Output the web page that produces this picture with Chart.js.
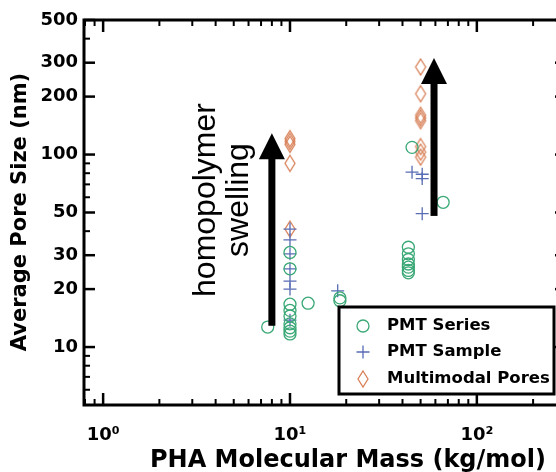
<!DOCTYPE html>
<html>
<head>
<meta charset="utf-8">
<script src="https://cdn.jsdelivr.net/npm/chart.js@4.4.1/dist/chart.umd.min.js"></script>
<style>
  html, body { margin: 0; padding: 0; background: #fff; overflow: hidden; }
  #wrap { width: 580px; height: 472px; }
</style>
</head>
<body>
<div id="wrap"><canvas id="c" width="580" height="472"></canvas></div>
<script>
// PMT Series: PHA molecular mass (kg/mol) and average pore size (nm)
const seriesMass = [7.6, 10, 10, 10, 10, 10, 10, 10, 10, 10, 12.5, 18.5, 18.5, 43, 43, 43, 43, 43, 43, 43, 45, 66];
const seriesPore = [12.7, 31, 25.5, 16.7, 15.5, 14.5, 13.2, 12.6, 12.1, 11.7, 16.9, 18, 17.4, 33, 30.5, 28.5, 27, 26, 25, 24.3, 109, 56.5];

// PMT Sample
const sampleMass = [10, 10, 10, 10, 10, 10, 10, 18, 45, 51, 51, 51];
const samplePore = [41, 36, 30.5, 25.5, 22, 20, 13.8, 19.6, 81, 79, 75, 49.3];

// Multimodal pores
const multiMass = [10, 10, 10, 10, 10, 50, 50, 50, 50, 50, 50, 50, 50];
const multiPore = [121, 117, 113, 90, 41, 285, 207, 160, 155, 150, 110, 103, 97];

// Axis ticks
const xMajor = [1, 10, 100];
const xLabels = ['10\u2070', '10\u00b9', '10\u00b2'];
const xMinor = [0.8, 0.9, 2, 3, 4, 5, 6, 7, 8, 9, 20, 30, 40, 50, 60, 70, 80, 90, 200];
const yMajor = [10, 20, 30, 50, 100, 200, 300, 500];
const yLabels = ['10', '20', '30', '50', '100', '200', '300', '500'];
const yMinor = [6, 7, 8, 9, 40, 60, 70, 80, 90, 400];

// "homopolymer swelling" arrows (mass, from pore size, to pore size)
const arrowMass = [8, 59];
const arrowFrom = [12.9, 48];
const arrowTo = [129, 317];

const legendNames = ['PMT Series', 'PMT Sample', 'Multimodal Pores'];

const GREEN = 'rgb(58,168,118)';
const BLUE = 'rgb(88,108,180)';
const ORANGE = 'rgb(216,128,88)';

// tall open diamond marker
function diamondMarker(color) {
  const cv = document.createElement('canvas');
  cv.width = 14; cv.height = 20;
  const g = cv.getContext('2d');
  g.strokeStyle = color;
  g.lineWidth = 1.3;
  g.beginPath();
  g.moveTo(7, 2); g.lineTo(12, 10); g.lineTo(7, 18); g.lineTo(2, 10);
  g.closePath();
  g.stroke();
  return cv;
}
const diamond = diamondMarker(ORANGE);

const pairs = (xs, ys) => xs.map((v, i) => ({ x: v, y: ys[i] }));

const axisFrame = {
  id: 'axisFrame',
  beforeDatasetsDraw(chart) {
    const { ctx, chartArea: a, scales: { x, y } } = chart;
    ctx.save();
    ctx.strokeStyle = '#000';
    const seg = (x0, y0, x1, y1) => { ctx.beginPath(); ctx.moveTo(x0, y0); ctx.lineTo(x1, y1); ctx.stroke(); };
    ctx.lineWidth = 2.5;
    xMajor.forEach(v => { const p = x.getPixelForValue(v); seg(p, a.bottom, p, a.bottom - 12); seg(p, a.top, p, a.top + 12); });
    yMajor.forEach(v => { const p = y.getPixelForValue(v); seg(a.left, p, a.left + 11, p); seg(a.right, p, a.right - 11, p); });
    ctx.lineWidth = 2;
    xMinor.forEach(v => { const p = x.getPixelForValue(v); seg(p, a.bottom, p, a.bottom - 6); seg(p, a.top, p, a.top + 6); });
    yMinor.forEach(v => { const p = y.getPixelForValue(v); seg(a.left, p, a.left + 6, p); seg(a.right, p, a.right - 6, p); });
    ctx.lineWidth = 3;
    ctx.strokeRect(a.left, a.top, a.right - a.left, a.bottom - a.top);
    ctx.restore();
  }
};

const notes = {
  id: 'notes',
  afterDatasetsDraw(chart) {
    const { ctx, scales: { x, y } } = chart;
    ctx.save();
    ctx.fillStyle = '#000';
    arrowMass.forEach((m, i) => {
      const px = x.getPixelForValue(m);
      const yb = y.getPixelForValue(arrowFrom[i]);
      const yt = y.getPixelForValue(arrowTo[i]);
      const head = 26, half = 13;
      ctx.fillRect(px - 3.5, yt + head - 1, 7, yb - (yt + head - 1));
      ctx.beginPath();
      ctx.moveTo(px, yt);
      ctx.lineTo(px + half, yt + head);
      ctx.lineTo(px - half, yt + head);
      ctx.closePath();
      ctx.fill();
    });

    // rotated annotation
    ctx.font = '32px "Liberation Sans", Arial, sans-serif';
    ctx.textAlign = 'center';
    ctx.textBaseline = 'alphabetic';
    [['homopolymer', 215], ['swelling', 248]].forEach(([t, bx]) => {
      ctx.save();
      ctx.translate(bx, 200);
      ctx.rotate(-Math.PI / 2);
      ctx.fillText(t, 0, 0);
      ctx.restore();
    });

    // axis titles
    ctx.font = 'bold 24px "DejaVu Sans", sans-serif';
    ctx.textBaseline = 'middle';
    ctx.fillText('PHA Molecular Mass (kg/mol)', 348, 461);
    ctx.save();
    ctx.font = 'bold 21px "DejaVu Sans", sans-serif';
    ctx.translate(21, 212);
    ctx.rotate(-Math.PI / 2);
    ctx.fillText('Average Pore Size (nm)', 0, 0);
    ctx.restore();

    // legend
    const L = 339, T = 307, R = 554, B = 394;
    ctx.fillStyle = '#fff';
    ctx.fillRect(L, T, R - L, B - T);
    ctx.strokeStyle = '#000';
    ctx.lineWidth = 3;
    ctx.strokeRect(L, T, R - L, B - T);
    const rows = [326, 352, 379];
    chart.data.datasets.forEach((ds, i) => {
      ctx.save();
      ctx.strokeStyle = ds.borderColor;
      ctx.fillStyle = 'rgba(0,0,0,0)';
      ctx.lineWidth = ds.borderWidth;
      Chart.helpers.drawPoint(ctx, { pointStyle: ds.pointStyle, radius: ds.pointRadius, rotation: 0, borderWidth: ds.borderWidth }, 363, rows[i]);
      ctx.restore();
      ctx.fillStyle = '#000';
      ctx.font = 'bold 16.5px "DejaVu Sans", sans-serif';
      ctx.textAlign = 'left';
      ctx.textBaseline = 'middle';
      ctx.fillText(legendNames[i], 387, rows[i]);
    });
    ctx.restore();
  }
};

new Chart(document.getElementById('c'), {
  type: 'scatter',
  data: {
    datasets: [
      { label: legendNames[0], data: pairs(seriesMass, seriesPore), pointStyle: 'circle', pointRadius: 6, borderWidth: 1.3, borderColor: GREEN, backgroundColor: 'rgba(0,0,0,0)' },
      { label: legendNames[1], data: pairs(sampleMass, samplePore), pointStyle: 'cross', pointRadius: 6.5, borderWidth: 1.3, borderColor: BLUE, backgroundColor: 'rgba(0,0,0,0)' },
      { label: legendNames[2], data: pairs(multiMass, multiPore), pointStyle: diamond, pointRadius: 7, borderWidth: 1.3, borderColor: ORANGE, backgroundColor: 'rgba(0,0,0,0)' }
    ]
  },
  options: {
    responsive: false,
    animation: false,
    devicePixelRatio: 1,
    layout: { padding: { top: 20, right: 14, left: 0, bottom: 0 } },
    plugins: { legend: { display: false }, tooltip: { enabled: false } },
    scales: {
      x: {
        type: 'logarithmic', position: 'bottom', min: 0.79, max: 300,
        afterBuildTicks: s => { s.ticks = xMajor.map(v => ({ value: v, major: true })); },
        afterFit: s => { s.height = 67; },
        ticks: {
          callback: (v, i) => xLabels[i],
          color: '#000', padding: 20, maxRotation: 0, autoSkip: false,
          font: { family: 'DejaVu Sans', weight: 'bold', size: 18 }
        },
        grid: { display: false, drawTicks: false },
        border: { display: false }
      },
      y: {
        type: 'logarithmic', position: 'left', min: 5, max: 500,
        afterBuildTicks: s => { s.ticks = yMajor.map(v => ({ value: v, major: true })); },
        afterFit: s => { s.width = 84; },
        ticks: {
          callback: (v, i) => yLabels[i],
          color: '#000', padding: 6, autoSkip: false,
          font: { family: 'DejaVu Sans', weight: 'bold', size: 18 }
        },
        grid: { display: false, drawTicks: false },
        border: { display: false }
      }
    }
  },
  plugins: [axisFrame, notes]
});
</script>
</body>
</html>
